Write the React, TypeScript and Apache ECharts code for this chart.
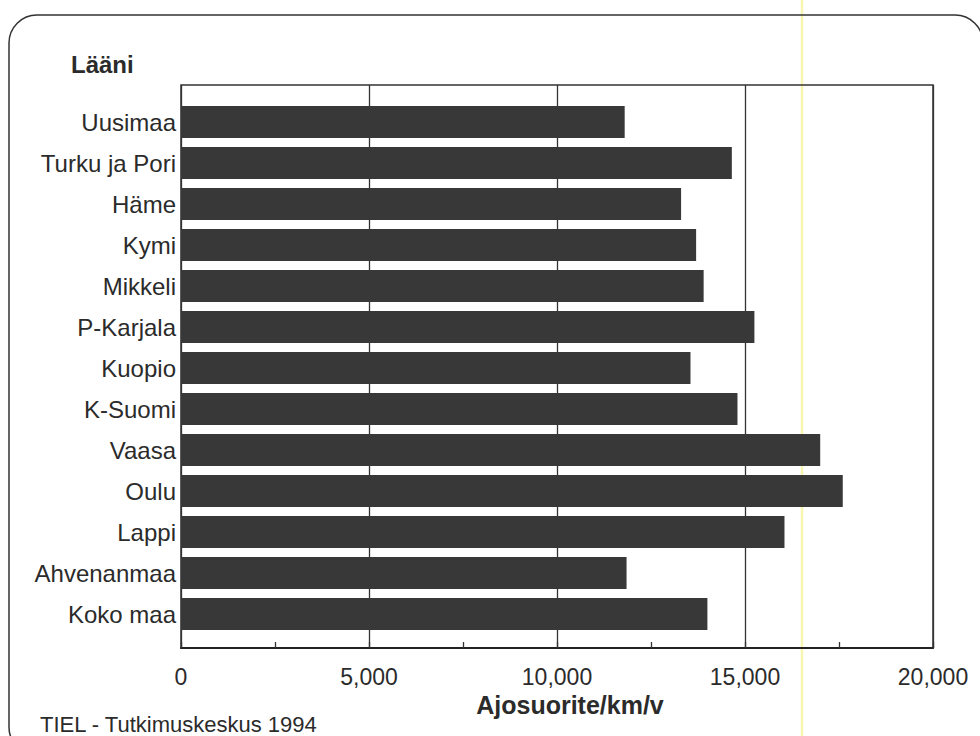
import React, { useEffect, useRef } from "react";
import * as echarts from "echarts";

// Läänit, top to bottom
const regions = [
  "Uusimaa",
  "Turku ja Pori",
  "Häme",
  "Kymi",
  "Mikkeli",
  "P-Karjala",
  "Kuopio",
  "K-Suomi",
  "Vaasa",
  "Oulu",
  "Lappi",
  "Ahvenanmaa",
  "Koko maa",
];

// Average annual mileage per car, km/v
const mileage = [
  11800, 14650, 13300, 13700, 13900, 15250, 13550, 14800, 17000, 17600, 16050,
  11850, 14000,
];

const axisMin = 0;
const axisMax = 20000;
const axisStep = 5000;

const FONT = "'Liberation Sans', Arial, Helvetica, sans-serif";
const INK = "#2b2b2b";

export default function App() {
  const ref = useRef<HTMLDivElement>(null);

  useEffect(() => {
    if (!ref.current) return;
    const chart = echarts.init(ref.current, undefined, { renderer: "svg" });

    // Category axis runs top-down
    const cats = [...regions].reverse();
    const vals = [...mileage].reverse();

    chart.setOption({
      animation: false,
      backgroundColor: "#ffffff",
      title: {
        text: "Lääni",
        left: 66,
        top: 47,
        textStyle: {
          fontFamily: FONT,
          fontSize: 24,
          fontWeight: "bold",
          color: INK,
        },
      },
      grid: [
        {
          // frame, value scale and gridlines
          left: 181,
          right: 47,
          top: 85,
          bottom: 88,
          show: true,
          borderColor: "#333",
          borderWidth: 1.5,
          backgroundColor: "transparent",
        },
        {
          // bars, inset inside the frame
          left: 181,
          right: 47,
          top: 101.5,
          bottom: 101.5,
        },
      ],
      xAxis: [
        {
          gridIndex: 0,
          type: "value",
          min: axisMin,
          max: axisMax,
          interval: axisStep,
          name: "Ajosuorite/km/v",
          nameLocation: "middle",
          nameGap: 42,
          nameTextStyle: {
            fontFamily: FONT,
            fontSize: 25,
            fontWeight: "bold",
            color: INK,
            padding: [0, 0, 0, 26],
          },
          axisLine: { show: true, lineStyle: { color: "#222", width: 2 } },
          axisTick: {
            show: true,
            inside: true,
            length: 6,
            lineStyle: { color: "#333", width: 1.3 },
          },
          minorTick: {
            show: true,
            splitNumber: 2,
            length: 6,
            lineStyle: { color: "#333", width: 1.3 },
          },
          splitLine: { show: true, lineStyle: { color: "#333", width: 1.3 } },
          axisLabel: {
            margin: 17,
            fontFamily: FONT,
            fontSize: 23,
            color: INK,
            formatter: (v: number) => v.toLocaleString("en-US"),
          },
        },
        {
          gridIndex: 1,
          type: "value",
          min: axisMin,
          max: axisMax,
          show: false,
        },
      ],
      yAxis: [
        {
          gridIndex: 0,
          type: "value",
          show: false,
        },
        {
          gridIndex: 1,
          type: "category",
          data: cats,
          axisLine: { show: false },
          axisTick: { show: false },
          splitLine: { show: false },
          axisLabel: {
            margin: 5,
            fontFamily: FONT,
            fontSize: 24,
            color: INK,
          },
        },
      ],
      series: [
        {
          type: "bar",
          xAxisIndex: 1,
          yAxisIndex: 1,
          data: vals,
          barWidth: 32,
          itemStyle: { color: "#383838" },
          z: 3,
        },
      ],
      graphic: [
        {
          // rounded card outline
          type: "rect",
          shape: { x: 9, y: 15, width: 974, height: 740, r: 28 },
          style: { fill: "none", stroke: "#333", lineWidth: 1.5 },
          z: 1,
          silent: true,
        },
        {
          // highlighter mark
          type: "line",
          shape: { x1: 802, y1: 0, x2: 802, y2: 736 },
          style: { stroke: "#f8f5a8", lineWidth: 2.5, opacity: 0.9 },
          z: -1,
          silent: true,
        },
        {
          type: "text",
          left: 40,
          top: 713,
          style: {
            text: "TIEL - Tutkimuskeskus 1994",
            fontFamily: FONT,
            fontSize: 22,
            fill: INK,
          },
          silent: true,
        },
      ],
    });

    return () => chart.dispose();
  }, []);

  return (
    <div
      ref={ref}
      style={{ position: "fixed", left: 0, top: 0, width: 980, height: 736 }}
    />
  );
}
